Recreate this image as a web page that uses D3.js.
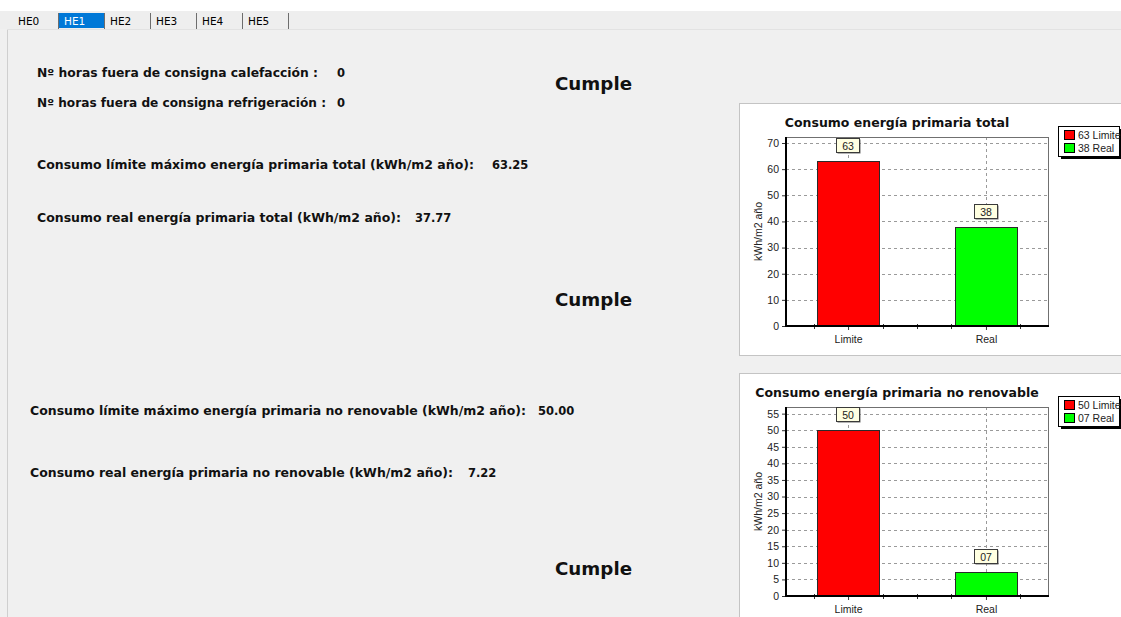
<!DOCTYPE html>
<html>
<head>
<meta charset="utf-8">
<script src="https://cdn.jsdelivr.net/npm/d3@7"></script>
<style>
  html, body { margin: 0; padding: 0; background: #f0f0f0; overflow: hidden; }
  svg { display: block; }
</style>
</head>
<body>
<svg id="page" width="1121" height="617"></svg>
<script>
// ---- data ----
const tabNames = ["HE0", "HE1", "HE2", "HE3", "HE4", "HE5"];
const selectedTab = "HE1";

const categories = ["Limite", "Real"];
const totalValues = [63.25, 37.77];      // kWh/m2 año, energía primaria total
const renovValues = [50.00, 7.22];       // kWh/m2 año, energía primaria no renovable
const totalTicks = [0, 10, 20, 30, 40, 50, 60, 70];
const renovTicks = [0, 5, 10, 15, 20, 25, 30, 35, 40, 45, 50, 55];
const totalAxisMax = 72.3;
const renovAxisMax = 57;
const hoursCalefaccion = 0;
const hoursRefrigeracion = 0;
const verdict = "Cumple";
const chartTitles = ["Consumo energía primaria total", "Consumo energía primaria no renovable"];
const yAxisTitle = "kWh/m2 año";

const barColors = ["#ff0000", "#00ff00"];
const UI_FONT = "'DejaVu Sans', Verdana, sans-serif";
const CHART_FONT = "'Liberation Sans', Arial, sans-serif";

const svg = d3.select("#page");

// ---- window chrome: tab strip ----
svg.append("rect").attr("x", 0).attr("y", 0).attr("width", 1121).attr("height", 11).attr("fill", "#ffffff");
svg.append("rect").attr("x", 0).attr("y", 11).attr("width", 1121).attr("height", 18).attr("fill", "#eeeeee");
svg.append("line").attr("x1", 7).attr("x2", 1121).attr("y1", 29.5).attr("y2", 29.5).attr("stroke", "#e2e2e2");
svg.append("line").attr("x1", 7.5).attr("x2", 7.5).attr("y1", 30).attr("y2", 617).attr("stroke", "#cfcfcf");

const tabX = d3.scaleBand().domain(tabNames.slice(1)).range([58, 288]);
tabNames.forEach((name, i) => {
  const sel = name === selectedTab;
  const x0 = i === 0 ? 12 : tabX(name);
  if (sel) {
    svg.append("rect").attr("x", x0 + 1).attr("y", 13).attr("width", tabX.bandwidth() - 1)
      .attr("height", 15).attr("fill", "#0078d7");
  }
  svg.append("text").attr("x", i === 0 ? 18 : x0 + 6).attr("y", 25)
    .attr("font-family", UI_FONT).attr("font-size", 10.5)
    .attr("fill", sel ? "#ffffff" : "#000000").text(name);
  if (i > 0) {
    svg.append("line").attr("x1", x0 + tabX.bandwidth() + 0.5).attr("x2", x0 + tabX.bandwidth() + 0.5)
      .attr("y1", 13).attr("y2", 29).attr("stroke", "#6d6d6d");
  }
});
svg.append("line").attr("x1", 58.5).attr("x2", 58.5).attr("y1", 13).attr("y2", 29).attr("stroke", "#6d6d6d");

// ---- text block ----
const fmt2 = d3.format(".2f");
const textRows = [
  { label: "Nº horas fuera de consigna calefacción :", value: String(hoursCalefaccion), x: 37, y: 76.5, w: 281, vx: 337 },
  { label: "Nº horas fuera de consigna refrigeración :", value: String(hoursRefrigeracion), x: 37, y: 107, w: 289, vx: 337 },
  { label: "Consumo límite máximo energía primaria total (kWh/m2 año):", value: fmt2(totalValues[0]), x: 37, y: 169, w: 437, vx: 492 },
  { label: "Consumo real energía primaria total (kWh/m2 año):", value: fmt2(totalValues[1]), x: 37, y: 222, w: 364, vx: 415 },
  { label: "Consumo límite máximo energía primaria no renovable (kWh/m2 año):", value: fmt2(renovValues[0]), x: 30, y: 415, w: 496, vx: 538 },
  { label: "Consumo real energía primaria no renovable (kWh/m2 año):", value: fmt2(renovValues[1]), x: 30, y: 477, w: 423, vx: 468 }
];
textRows.forEach(r => {
  svg.append("text").attr("x", r.x).attr("y", r.y)
    .attr("font-family", UI_FONT).attr("font-weight", "bold").attr("font-size", 11.5)
    .attr("fill", "#111").attr("textLength", r.w).attr("lengthAdjust", "spacingAndGlyphs")
    .text(r.label);
  svg.append("text").attr("x", r.vx).attr("y", r.y)
    .attr("font-family", UI_FONT).attr("font-weight", "bold").attr("font-size", 11.5)
    .attr("fill", "#111").text(r.value);
});
[89.5, 305.5, 574.5].forEach(y => {
  svg.append("text").attr("x", 555).attr("y", y)
    .attr("font-family", UI_FONT).attr("font-weight", "bold").attr("font-size", 17.5)
    .attr("fill", "#111").attr("textLength", 77).attr("lengthAdjust", "spacingAndGlyphs")
    .text(verdict);
});

// ---- bar chart panels ----
const fmtLabel = v => d3.format("02d")(Math.round(v));

function drawChart(dy, title, values, ticks, yMax, panelH) {
  const g = svg.append("g").attr("transform", `translate(0,${dy})`);
  const L = 786, R = 1048, T = 137, B = 326;

  g.append("rect").attr("x", 739.5).attr("y", 103.5).attr("width", 400).attr("height", panelH)
    .attr("fill", "#ffffff").attr("stroke", "#c4c4c4");

  g.append("text").attr("x", 897).attr("y", 127).attr("text-anchor", "middle")
    .attr("font-family", UI_FONT).attr("font-weight", "bold").attr("font-size", 12.5)
    .attr("fill", "#111").text(title);

  const x = d3.scalePoint().domain(categories).range([L, R]).padding(0.45);
  const y = d3.scaleLinear().domain([0, yMax]).range([B, T]);

  // grid
  g.append("g").selectAll("line").data(ticks.filter(t => t > 0)).join("line")
    .attr("x1", L).attr("x2", R).attr("y1", d => Math.round(y(d)) + 0.5).attr("y2", d => Math.round(y(d)) + 0.5)
    .attr("stroke", "#9a9a9a").attr("stroke-dasharray", "3,3");
  g.append("g").selectAll("line").data(categories).join("line")
    .attr("x1", d => Math.round(x(d)) + 0.5).attr("x2", d => Math.round(x(d)) + 0.5)
    .attr("y1", T).attr("y2", B)
    .attr("stroke", "#9a9a9a").attr("stroke-dasharray", "3,3");

  // plot frame
  g.append("rect").attr("x", L + 0.5).attr("y", T + 0.5).attr("width", R - L).attr("height", B - T)
    .attr("fill", "none").attr("stroke", "#707070");

  // bars
  const bw = 62;
  g.append("g").selectAll("rect").data(values).join("rect")
    .attr("x", (d, i) => Math.round(x(categories[i]) - bw / 2) + 0.5)
    .attr("y", d => Math.round(y(d)) + 0.5)
    .attr("width", bw).attr("height", d => B - Math.round(y(d)))
    .attr("fill", (d, i) => barColors[i]).attr("stroke", "#2a2a2a");

  // axes
  const ya = d3.axisLeft(y).tickValues(ticks).tickSize(4).tickPadding(3).tickFormat(d3.format("d"));
  const yg = g.append("g").attr("transform", `translate(${L},0)`).call(ya);
  yg.select(".domain").remove();
  yg.selectAll("text").attr("font-family", CHART_FONT).attr("font-size", 10.5).attr("fill", "#222");
  yg.selectAll("line").attr("stroke", "#333");

  const xa = d3.axisBottom(x).tickSize(4).tickPadding(6);
  const xg = g.append("g").attr("transform", `translate(0,${B})`).call(xa);
  xg.select(".domain").remove();
  xg.selectAll("text").attr("font-family", CHART_FONT).attr("font-size", 10.5).attr("fill", "#222");
  xg.selectAll("line").attr("stroke", "#333");

  // minor ticks at quarter steps
  const q = x.step() / 4;
  const minor = [];
  categories.forEach(c => [-2, -1, 1, 2].forEach(k => {
    const p = x(c) + k * q;
    if (p > L + 2 && p < R - 2 && !minor.some(m => Math.abs(m - p) < 1)) minor.push(p);
  }));
  g.append("g").selectAll("line").data(minor).join("line")
    .attr("x1", d => Math.round(d) + 0.5).attr("x2", d => Math.round(d) + 0.5)
    .attr("y1", B - 2).attr("y2", B + 3).attr("stroke", "#333");

  // heavy axis lines
  g.append("line").attr("x1", L).attr("x2", L).attr("y1", T).attr("y2", B + 1)
    .attr("stroke", "#000").attr("stroke-width", 2);
  g.append("line").attr("x1", L - 1).attr("x2", R + 1).attr("y1", B).attr("y2", B)
    .attr("stroke", "#000").attr("stroke-width", 2);

  // y-axis title
  g.append("text").attr("transform", `translate(762,${(T + B) / 2}) rotate(-90)`)
    .attr("text-anchor", "middle").attr("font-family", CHART_FONT).attr("font-size", 10.5)
    .attr("fill", "#222").text(yAxisTitle);

  // value labels
  const lab = g.append("g").selectAll("g").data(values).join("g")
    .attr("transform", (d, i) => `translate(${Math.round(x(categories[i]))},${Math.round(y(d)) - 8})`);
  lab.append("rect").attr("x", -10.5).attr("y", -13.5).attr("width", 23).attr("height", 14)
    .attr("fill", "#6a6a6a");
  lab.append("rect").attr("x", -11.5).attr("y", -14.5).attr("width", 23).attr("height", 14)
    .attr("fill", "#ffffe1").attr("stroke", "#3a3a3a");
  lab.append("text").attr("x", 0).attr("y", -3.5).attr("text-anchor", "middle")
    .attr("font-family", CHART_FONT).attr("font-size", 10.5).attr("fill", "#222")
    .text(d => fmtLabel(d));

  // legend
  const lg = g.append("g");
  lg.append("rect").attr("x", 1061).attr("y", 129).attr("width", 62).attr("height", 30).attr("fill", "#000");
  lg.append("rect").attr("x", 1058.5).attr("y", 126.5).attr("width", 61).attr("height", 30)
    .attr("fill", "#ffffff").attr("stroke", "#000");
  const items = lg.selectAll("g").data(values).join("g")
    .attr("transform", (d, i) => `translate(1064,${130 + i * 13})`);
  items.append("rect").attr("x", 0.5).attr("y", 0.5).attr("width", 10).attr("height", 9)
    .attr("fill", (d, i) => barColors[i]).attr("stroke", "#000");
  items.append("text").attr("x", 14).attr("y", 9).attr("font-family", CHART_FONT).attr("font-size", 10.5)
    .attr("fill", "#222").text((d, i) => `${fmtLabel(d)} ${categories[i]}`);
}

drawChart(0, chartTitles[0], totalValues, totalTicks, totalAxisMax, 252);
drawChart(270, chartTitles[1], renovValues, renovTicks, renovAxisMax, 300);
</script>
</body>
</html>
